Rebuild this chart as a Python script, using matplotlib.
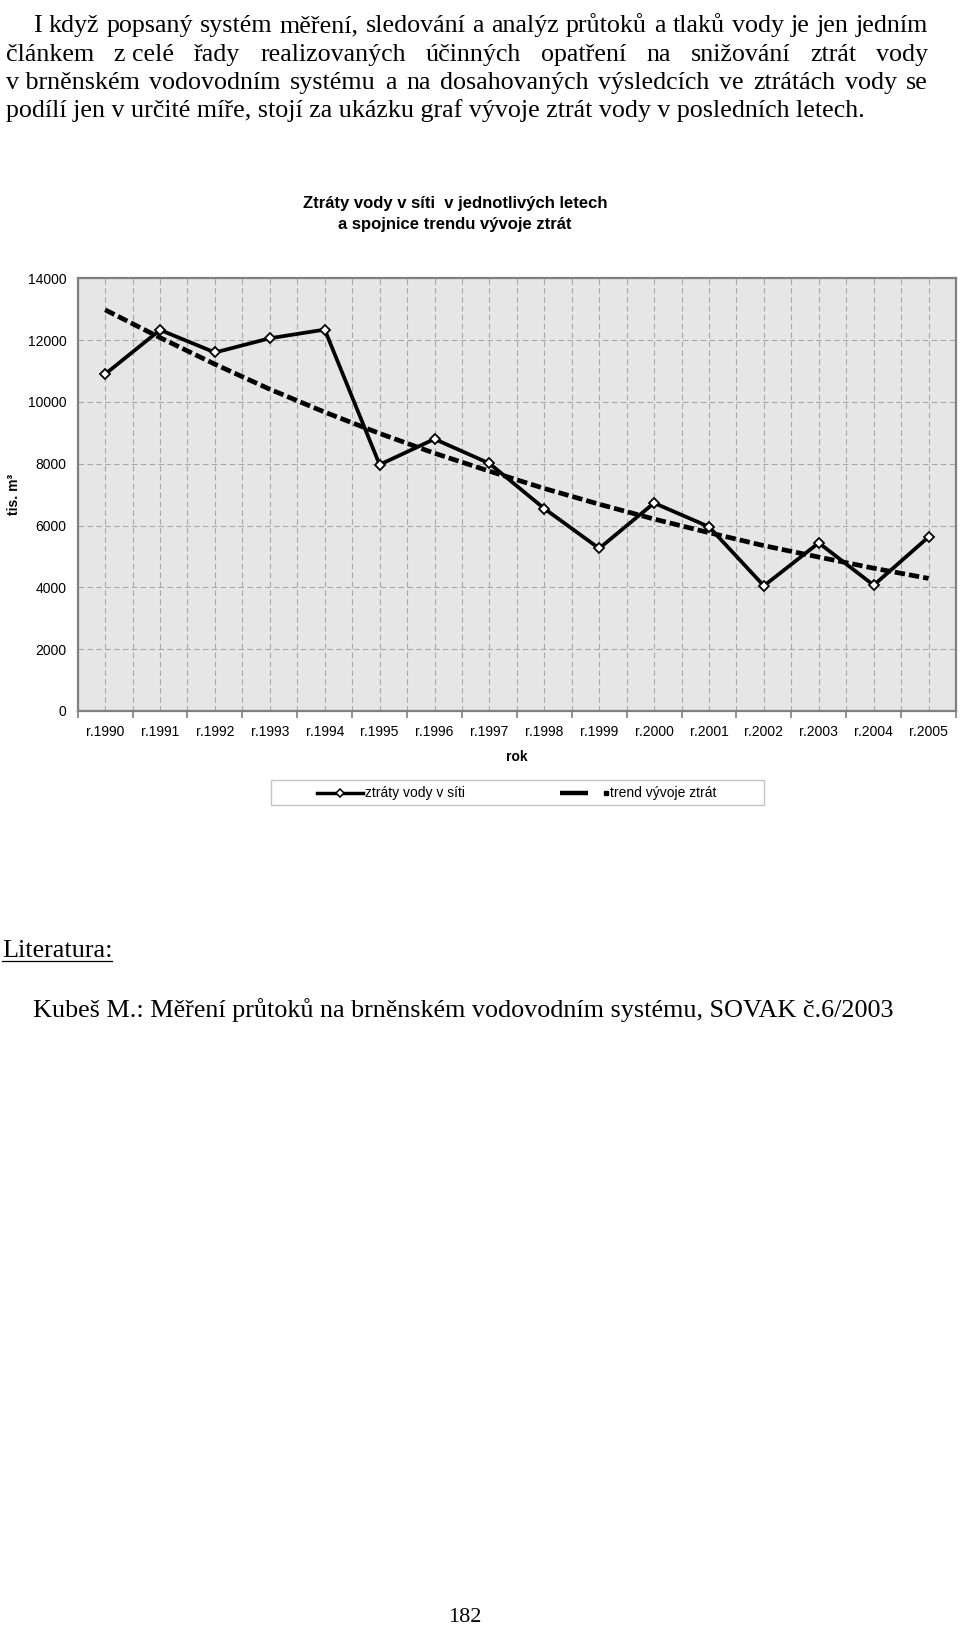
import numpy as np
import matplotlib
matplotlib.use("Agg")
import matplotlib.pyplot as plt
from matplotlib.patches import Rectangle

plt.rcParams["font.family"] = ["Liberation Sans", "DejaVu Sans"]

# chart data (tis. m3)
years = ["r.1990", "r.1991", "r.1992", "r.1993", "r.1994", "r.1995", "r.1996", "r.1997",
         "r.1998", "r.1999", "r.2000", "r.2001", "r.2002", "r.2003", "r.2004", "r.2005"]
losses = [10900, 12330, 11600, 12060, 12340, 7970, 8800, 8010,
          6550, 5260, 6730, 5960, 4050, 5440, 4070, 5630]
trend = [12980, 12080, 11220, 10410, 9670, 8980, 8340, 7760,
         7200, 6690, 6210, 5770, 5350, 4980, 4620, 4290]
y_ticks = [0, 2000, 4000, 6000, 8000, 10000, 12000, 14000]

# page text
para_lines = [
    "I když popsaný systém měření, sledování a analýz průtoků a tlaků vody je jen jedním",
    "článkem|z celé|řady|realizovaných|účinných|opatření|na|snižování|ztrát|vody",
    "v brněnském|vodovodním|systému|a|na|dosahovaných|výsledcích|ve|ztrátách|vody|se",
    "podílí jen v určité míře, stojí za ukázku graf vývoje ztrát vody v posledních letech.",
]
title_lines = ["Ztráty vody v síti  v jednotlivých letech", "a spojnice trendu vývoje ztrát"]
legend_labels = ["ztráty vody v síti", "trend vývoje ztrát"]

W, H = 960, 1635
SERIF = ["Liberation Serif", "DejaVu Serif"]

fig = plt.figure(figsize=(W / 100, H / 100), dpi=100)
page = fig.add_axes([0, 0, 1, 1], zorder=0)
page.set_xlim(0, W)
page.set_ylim(H, 0)
page.axis("off")
renderer = fig.canvas.get_renderer()


def text_width(s, size, **kw):
    t = page.text(0, 0, s, fontsize=size, **kw)
    w = t.get_window_extent(renderer).width
    t.remove()
    return w


def fit_size(s, width, **kw):
    return 16 * width / text_width(s, 16, **kw)


def put_justified(line, x0, x1, y, size):
    words = line.split("|") if "|" in line else line.split(" ")
    widths = [text_width(w, size, family=SERIF) for w in words]
    gap = (x1 - x0 - sum(widths)) / (len(words) - 1)
    x = x0
    for w, wd in zip(words, widths):
        page.text(x, y, w, fontsize=size, family=SERIF, va="baseline", ha="left")
        x += wd + gap


# paragraph
body_size = fit_size(para_lines[3], 859, family=SERIF)
baselines = [32, 61, 89, 117]
put_justified(para_lines[0], 33, 928, baselines[0], body_size)
put_justified(para_lines[1], 6, 928, baselines[1], body_size)
put_justified(para_lines[2], 6, 928, baselines[2], body_size)
page.text(6, baselines[3], para_lines[3], fontsize=body_size, family=SERIF, va="baseline")

# chart title
page.text(455, 203, title_lines[0], fontsize=12, fontweight="bold", ha="center", va="center")
page.text(455, 224, title_lines[1], fontsize=12, fontweight="bold", ha="center", va="center")

# chart
ax = fig.add_axes([77.7 / W, 1 - 711 / H, 878.3 / W, 432.7 / H], zorder=1)
ax.set_facecolor("#e6e6e6")
x = np.arange(len(years))
ax.plot(x, trend, color="black", lw=3.4, ls=(0, (2.2, 0.85)), dash_capstyle="butt", zorder=3)
ax.plot(x, losses, color="black", lw=2.7, marker="D", ms=5.2, mfc="white", mec="black",
        mew=1.3, zorder=4)
ax.set_xlim(-0.5, len(years) - 0.5)
ax.set_ylim(0, 14000)
ax.set_yticks(y_ticks)
ax.set_xticks(np.arange(len(years) + 1) - 0.5)
ax.set_xticks(x, minor=True)
ax.set_xticklabels(years, minor=True)
ax.tick_params(axis="x", which="major", length=5, width=1.2, color="#808080", labelbottom=False)
ax.tick_params(axis="x", which="minor", length=0, pad=10, labelsize=10)
ax.tick_params(axis="y", length=0, pad=8, labelsize=10)
ax.grid(True, which="both", axis="x", ls=(0, (5, 3)), color="#a8a8a8", lw=0.8)
ax.grid(True, which="major", axis="y", ls=(0, (5, 3)), color="#a8a8a8", lw=0.8)
ax.set_axisbelow(True)
for sp in ax.spines.values():
    sp.set_color("#808080")
    sp.set_linewidth(1.6)

ax.set_xlabel("rok", fontsize=10, fontweight="bold")
ax.xaxis.set_label_coords(0.5, -0.09)
ax.set_ylabel("tis. m³", fontsize=10, fontweight="bold", va="center", ha="center")
ax.yaxis.set_label_coords(-0.073, 0.5)

# legend box
ly = 792.5
page.add_patch(Rectangle((271, 780), 493, 25, facecolor="white", edgecolor="#c4c4c4", lw=1))
page.plot([317, 363], [ly, ly], color="black", lw=2.5)
page.plot([340], [ly], marker="D", ms=4, mfc="white", mec="black", mew=1.1)
page.text(365, ly, legend_labels[0], fontsize=10, va="center", ha="left")
page.plot([560, 588], [ly, ly], color="black", lw=3.2, solid_capstyle="butt")
page.plot([606], [ly], marker="s", ms=2.2, color="black")
page.text(610, ly, legend_labels[1], fontsize=10, va="center", ha="left")

# references
lit_size = fit_size("Literatura:", 110, family=SERIF)
page.text(2, 957, "Literatura:", fontsize=lit_size, family=SERIF, va="baseline")
page.plot([2, 112], [961, 961], color="black", lw=0.9)
ref = "Kubeš M.: Měření průtoků na brněnském vodovodním systému, SOVAK č.6/2003"
page.text(33, 1017, ref, fontsize=fit_size(ref, 862, family=SERIF), family=SERIF, va="baseline")

# page number
page.text(465, 1622, "182", fontsize=16, family=SERIF, ha="center", va="baseline")

fig.savefig("out.png", dpi=100)
